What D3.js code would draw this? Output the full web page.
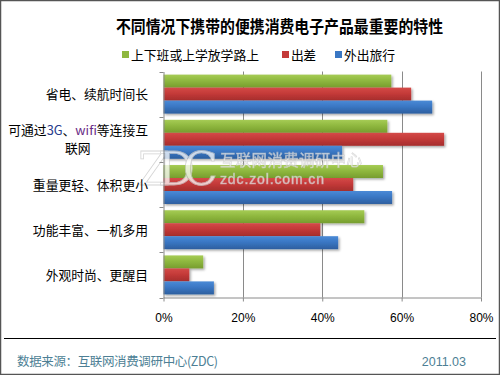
<!DOCTYPE html>
<html>
<head>
<meta charset="utf-8">
<script src="https://cdn.jsdelivr.net/npm/d3@7"></script>
<style>
  body { margin: 0; background: #fff; }
  text { font-family: "Liberation Sans", Arial, "Noto Sans CJK SC", sans-serif; }
</style>
</head>
<body>
<script>
const categories = ['省电、续航时间长', '可通过3G、wifi等连接互联网', '重量更轻、体积更小', '功能丰富、一机多用', '外观时尚、更醒目'];
const seriesNames = ['上下班或上学放学路上', '出差', '外出旅行'];
const commute = [57.4, 56.4, 55.3, 50.6, 10.0];
const trip = [62.4, 70.7, 47.8, 39.5, 6.5];
const travel = [67.7, 45.0, 57.6, 44.0, 12.7];
const xTicks = [0, 20, 40, 60, 80];

const series = [commute, trip, travel];
const colors = [
  { top: '#a6cc55', mid: '#8fb83f', bot: '#779d2e' },
  { top: '#d44a48', mid: '#c43a39', bot: '#a52d2c' },
  { top: '#4a8ad6', mid: '#3a77c4', bot: '#2d5f9f' },
];

const width = 500, height = 375;
const svg = d3.select('body').append('svg').attr('width', width).attr('height', height);
const defs = svg.append('defs');
const cjk = '"Noto Sans CJK SC", sans-serif';

colors.forEach((c, i) => {
  const g = defs.append('linearGradient').attr('id', 'grad' + i).attr('x1', 0).attr('y1', 0).attr('x2', 0).attr('y2', 1);
  g.append('stop').attr('offset', '0%').attr('stop-color', c.top);
  g.append('stop').attr('offset', '45%').attr('stop-color', c.mid);
  g.append('stop').attr('offset', '100%').attr('stop-color', c.bot);
});
defs.append('filter').attr('id', 'shadow').attr('x', '-5%').attr('y', '-20%').attr('width', '120%').attr('height', '160%')
  .append('feDropShadow').attr('dx', 1.5).attr('dy', 1.5).attr('stdDeviation', 1).attr('flood-color', '#000').attr('flood-opacity', 0.35);

// frame
svg.append('rect').attr('x', 0.5).attr('y', 0.5).attr('width', width - 1).attr('height', height - 1)
  .attr('fill', '#fff').attr('stroke', '#555').attr('stroke-width', 1.5);

// title
svg.append('text').attr('x', 116).attr('y', 33).attr('textLength', 327).attr('lengthAdjust', 'spacingAndGlyphs')
  .style('font-family', cjk).style('font-weight', 'bold').style('font-size', '16.5px')
  .attr('fill', '#000').text('不同情况下携带的便携消费电子产品最重要的特性');

// legend
const legendX = [122, 282, 335];
const legendLen = [128, 25, 51];
seriesNames.forEach((name, i) => {
  svg.append('rect').attr('x', legendX[i]).attr('y', 51).attr('width', 7).attr('height', 7).attr('fill', colors[i].mid);
  svg.append('text').attr('x', legendX[i] + 9).attr('y', 59.5).attr('textLength', legendLen[i])
    .style('font-family', cjk).style('font-size', '12.8px').attr('fill', '#000').text(name);
});

const margin = { left: 163.5, right: 19, top: 71.5, bottom: 77.5 };
const x = d3.scaleLinear().domain([0, 80]).range([margin.left, width - margin.right]);
const y = d3.scaleBand().domain(categories).range([margin.top, height - margin.bottom]);
const inner = d3.scaleBand().domain([0, 1, 2]).range([0, y.bandwidth()]).paddingOuter(0.24).paddingInner(0);

// gridlines
svg.append('g').selectAll('line').data(xTicks.slice(1)).enter().append('line')
  .attr('x1', (d) => Math.round(x(d)) + 0.5).attr('x2', (d) => Math.round(x(d)) + 0.5)
  .attr('y1', margin.top).attr('y2', height - margin.bottom)
  .attr('stroke', '#8a8a8a').attr('stroke-width', 1);

// bars
const groups = svg.append('g').selectAll('g').data(categories).enter().append('g')
  .attr('transform', (d) => `translate(0,${y(d)})`);
groups.selectAll('rect').data((d, ci) => series.map((s, si) => ({ si, v: s[ci] }))).enter().append('rect')
  .attr('x', x(0))
  .attr('y', (d) => inner(d.si))
  .attr('width', (d) => x(d.v) - x(0))
  .attr('height', inner.bandwidth())
  .attr('fill', (d) => `url(#grad${d.si})`)
  .attr('filter', 'url(#shadow)');

// watermark
const wm = svg.append('g').attr('opacity', 0.75);
wm.append('text').attr('x', 138).attr('y', 185).style('font-family', '"DejaVu Serif", serif').style('font-size', '46px')
  .attr('fill', '#fff').attr('stroke', '#c8c8c8').attr('stroke-width', 0.8).attr('textLength', 80).text('ZDC');
wm.append('text').attr('x', 220).attr('y', 166).attr('textLength', 142).style('font-family', cjk).style('font-size', '15.5px')
  .attr('fill', '#fff').attr('stroke', '#c8c8c8').attr('stroke-width', 0.6).text('互联网消费调研中心');
wm.append('text').attr('x', 220).attr('y', 184).attr('textLength', 104).style('font-size', '14px')
  .attr('fill', '#fff').attr('stroke', '#c8c8c8').attr('stroke-width', 0.6).text('zdc.zol.com.cn');

// y axis
const yAxis = svg.append('g').attr('transform', `translate(${margin.left},0)`)
  .call(d3.axisLeft(y).tickValues([]).tickSizeOuter(0));
yAxis.select('.domain').attr('stroke', '#8a8a8a');
svg.append('g').selectAll('line').data(d3.range(categories.length + 1)).enter().append('line')
  .attr('x1', margin.left - 4).attr('x2', margin.left)
  .attr('y1', (d) => Math.round(margin.top + d * y.step()) + 0.5).attr('y2', (d) => Math.round(margin.top + d * y.step()) + 0.5)
  .attr('stroke', '#8a8a8a');

// x axis
const xAxis = svg.append('g').attr('transform', `translate(0,${height - margin.bottom})`)
  .call(d3.axisBottom(x).tickValues(xTicks).tickFormat((d) => d + '%').tickSize(4).tickSizeOuter(0).tickPadding(12));
xAxis.select('.domain').attr('stroke', '#8a8a8a');
xAxis.selectAll('.tick line').attr('stroke', '#8a8a8a');
xAxis.selectAll('.tick text').style('font-size', '12px').attr('fill', '#000');

// category labels
categories.forEach((c, i) => {
  const cy = y(c) + y.bandwidth() / 2;
  if (i === 1) {
    const t = svg.append('text').attr('x', 148).attr('y', cy - 4).attr('text-anchor', 'end')
      .style('font-family', cjk).style('font-size', '12.8px').attr('fill', '#000');
    t.append('tspan').text('可通过');
    t.append('tspan').attr('fill', '#283c8c').text('3G');
    t.append('tspan').text('、');
    t.append('tspan').attr('fill', '#6a2a86').text('wifi');
    t.append('tspan').text('等连接互');
    svg.append('text').attr('x', 65).attr('y', cy + 14)
      .style('font-family', cjk).style('font-size', '12.8px').attr('fill', '#000').text('联网');
  } else {
    svg.append('text').attr('x', 148).attr('y', cy + 5).attr('text-anchor', 'end')
      .style('font-family', cjk).style('font-size', '12.8px').attr('fill', '#000').text(c);
  }
});

// footer
svg.append('line').attr('x1', 4).attr('x2', 496).attr('y1', 338.5).attr('y2', 338.5).attr('stroke', '#000').attr('stroke-width', 1);
svg.append('text').attr('x', 17).attr('y', 366).attr('textLength', 201)
  .style('font-family', cjk).style('font-size', '12.5px').attr('fill', '#4d7f95')
  .text('数据来源：互联网消费调研中心(ZDC)');
svg.append('text').attr('x', 466).attr('y', 366).attr('text-anchor', 'end')
  .style('font-size', '12.5px').attr('fill', '#4d7f95').text('2011.03');
</script>
</body>
</html>
